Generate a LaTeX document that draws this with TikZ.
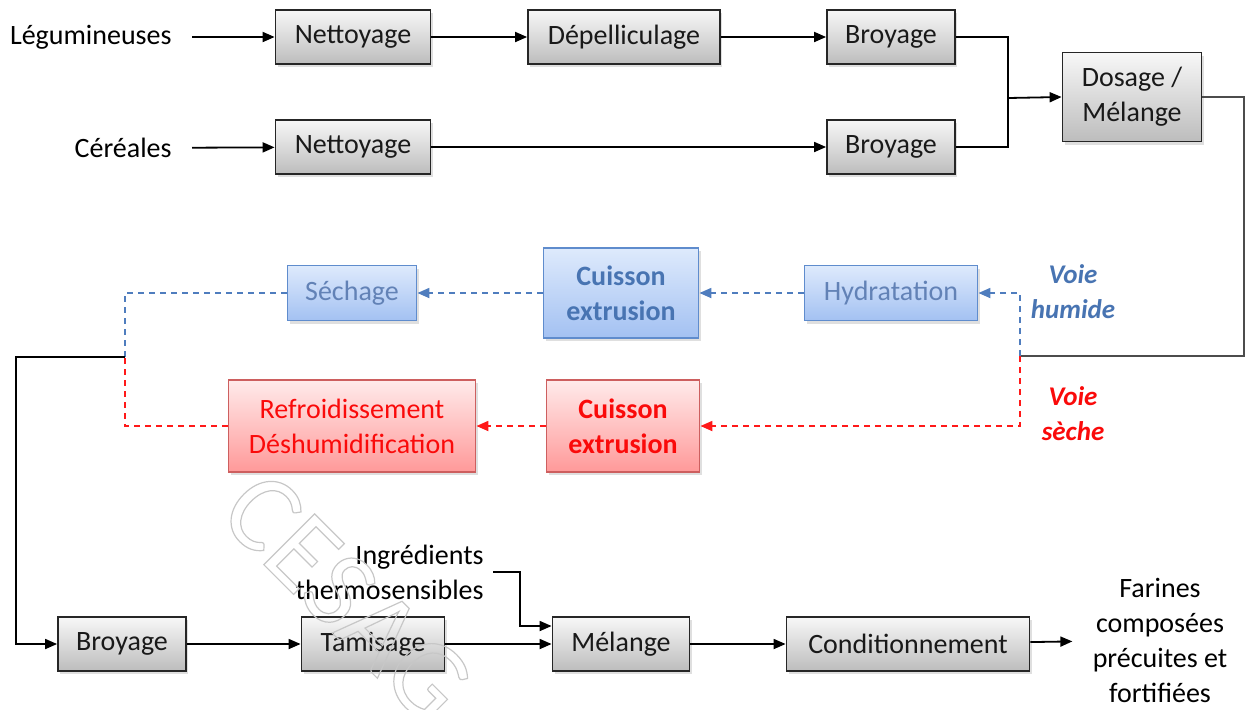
\documentclass[tikz,border=0pt]{standalone}
\usepackage{fontspec}
\setmainfont{Carlito}
\usetikzlibrary{arrows.meta,shadows,positioning}
\definecolor{bleutxt}{RGB}{98,130,182}
\definecolor{bleufort}{RGB}{72,116,178}
\definecolor{bleutrait}{RGB}{79,125,190}
\definecolor{bleubord}{RGB}{95,140,205}
\definecolor{bleuhaut}{RGB}{222,234,252}
\definecolor{bleubas}{RGB}{163,193,242}
\definecolor{rougebord}{RGB}{205,95,95}
\definecolor{rougetxt}{RGB}{250,10,10}

\tikzset{
  >={Triangle[length=6pt,width=5pt]},
  etape/.style={draw=black!85, line width=0.9pt, top color=black!3, bottom color=black!26,
    text=black!90, align=center, minimum height=27pt, inner sep=2pt,
    font=\fontsize{14}{17.5}\selectfont,
    drop shadow={shadow xshift=1pt,shadow yshift=-1.5pt,opacity=0.25}},
  etapeb/.style={etape, draw=bleubord, top color=bleuhaut, bottom color=bleubas, text=bleutxt},
  etaper/.style={etape, draw=rougebord, top color=red!8, bottom color=red!40, text=rougetxt},
  libre/.style={align=center, inner xsep=10pt, inner ysep=0pt, font=\fontsize{14}{17.5}\selectfont},
  voie/.style={align=center, font=\fontsize{13.5}{17.5}\selectfont\bfseries\itshape},
  trait/.style={line width=0.9pt},
  bleuflux/.style={line width=0.9pt, bleutrait, dash pattern=on 3pt off 2.5pt},
  rougeflux/.style={line width=0.9pt, red!90, dash pattern=on 3pt off 2.5pt},
}

\begin{document}
\begin{tikzpicture}[x=0.5pt,y=-0.5pt]
  \useasboundingbox (0,0) rectangle (1252,709);

  % premiere ligne
  \node[libre, anchor=east] (leg) at (192,37) {Légumineuses};
  \node[etape, minimum width=77.5pt] (net1) at (353,37) {Nettoyage};
  \node[etape, minimum width=96pt] (dep) at (624,37) {Dépelliculage};
  \node[etape, minimum width=64pt] (broy1) at (891,37) {Broyage};

  \node[libre, anchor=east] (cer) at (192,148) {Céréales};
  \node[etape, minimum width=77.5pt] (net2) at (353,147) {Nettoyage};
  \node[etape, minimum width=64pt] (broy2) at (891,147) {Broyage};

  \node[etape, minimum width=69.5pt, minimum height=44.5pt] (dos) at (1132,97) {Dosage /\\Mélange};

  % voies
  \node[etapeb, minimum width=86.5pt, minimum height=27.5pt] (hyd) at (891,293) {Hydratation};
  \node[etapeb, minimum width=77.5pt, minimum height=45pt, text=bleufort, font=\fontsize{14}{17.5}\selectfont\bfseries] (cuib) at (621,293) {Cuisson\\extrusion};
  \node[etapeb, minimum width=64.5pt, minimum height=27.5pt] (sec) at (352,293) {Séchage};
  \node[etaper, minimum width=76.5pt, minimum height=46pt, font=\fontsize{14}{17.5}\selectfont\bfseries] (cuir) at (623,426) {Cuisson\\extrusion};
  \node[etaper, minimum width=123.5pt, minimum height=46pt] (refr) at (352,426) {Refroidissement\\Déshumidification};
  \node[voie, text=bleufort] (hum) at (1073,292) {Voie\\humide};
  \node[voie, text=rougetxt] (sech) at (1073,414) {Voie\\sèche};

  % derniere ligne
  \node[etape, minimum width=64pt] (broy3) at (122,644) {Broyage};
  \node[etape, minimum width=71.5pt] (tam) at (373,644) {Tamisage};
  \node[etape, minimum width=68.5pt] (mel) at (621,644) {Mélange};
  \node[etape, minimum width=121.5pt] (cond) at (908,644) {Conditionnement};
  \node[libre] (far) at (1160,640) {Farines\\composées\\précuites et\\fortifiées};
  \node[libre, align=right, anchor=east, inner xsep=4.5pt] (ingr) at (493,572) {Ingrédients\\thermosensibles};

  \node[rotate=-45, text=black!22, font=\fontsize{56}{56}\selectfont] (filig) at (347,597)
    {\special{pdf:code 1 Tr 0.6 w}CESAG\special{pdf:code 0 Tr}};

  \coordinate (jonc) at (1008,98);
  \coordinate (coin) at (1244,356);
  \coordinate (voies) at (1020,356);
  \coordinate (sortie) at (125,357);
  \coordinate (gauche) at (16,357);

  \draw[trait,->] (leg) -- (net1);
  \draw[trait,->] (net1) -- (dep);
  \draw[trait,->] (dep) -- (broy1);
  \draw[trait,->] (cer) -- (net2);
  \draw[trait,->] (net2) -- (broy2);
  \draw[trait] (broy1.east) -| (jonc) |- (broy2.east);
  \draw[trait,->] (jonc) -- (dos.west);
  \draw[line width=1.3pt, black!70] (dos.east) -| (coin) -- (voies);

  \draw[bleuflux,->] (voies) |- (hyd.east);
  \draw[bleuflux,->] (hyd) -- (cuib);
  \draw[bleuflux,->] (cuib) -- (sec);
  \draw[bleuflux] (sec.west) -| (sortie);
  \draw[rougeflux,->] (voies) |- (cuir.east);
  \draw[rougeflux,->] (cuir) -- (refr);
  \draw[rougeflux] (refr.west) -| (sortie);

  \draw[trait,->] (sortie) -- (gauche) |- (broy3.west);
  \draw[trait,->] (broy3) -- (tam);
  \draw[trait,->] (tam) -- (mel);
  \draw[trait,->] (ingr.east) -| ([xshift=-16pt,yshift=9pt]mel.west) -- ([yshift=9pt]mel.west);
  \draw[trait,->] (mel) -- (cond);
  \draw[trait,->] (cond) -- (far);
\end{tikzpicture}
\end{document}
